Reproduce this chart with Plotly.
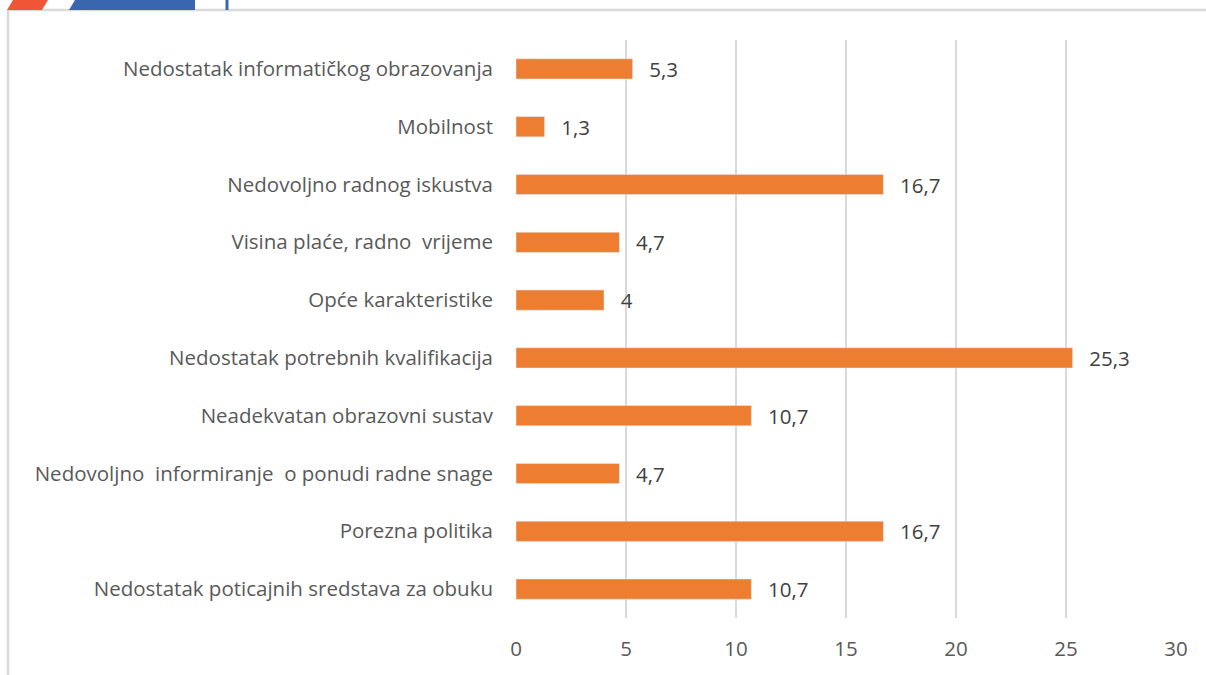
import plotly.graph_objects as go

categories = [
    "Nedostatak poticajnih sredstava za obuku",
    "Porezna politika",
    "Nedovoljno  informiranje  o ponudi radne snage",
    "Neadekvatan obrazovni sustav",
    "Nedostatak potrebnih kvalifikacija",
    "Opće karakteristike",
    "Visina plaće, radno  vrijeme",
    "Nedovoljno radnog iskustva",
    "Mobilnost",
    "Nedostatak informatičkog obrazovanja",
]
values = [10.7, 16.7, 4.7, 10.7, 25.3, 4.0, 4.7, 16.7, 1.3, 5.3]
labels = [("%g" % v).replace(".", ",") for v in values]
x_ticks = [0, 5, 10, 15, 20, 25, 30]

FONT = "Open Sans, sans-serif"
GRAY = "#595959"
FS = 20.5

fig = go.Figure(go.Bar(
    y=categories, x=values, orientation="h",
    marker=dict(color="#ED7D31"),
    width=0.35,
    text=["\u2002\u2009" + t for t in labels], textposition="outside", cliponaxis=False,
    constraintext="none",
    textfont=dict(family=FONT, size=FS, color="#404040"),
))

PW, PH = 660, 578
fig.update_layout(
    width=1206, height=675,
    margin=dict(l=516, r=30, t=40, b=57),
    paper_bgcolor="white", plot_bgcolor="white",
    showlegend=False,
    font=dict(family=FONT, size=FS, color=GRAY),
    xaxis=dict(range=[0, 30], tickvals=x_ticks, showgrid=True,
               gridcolor="#D9D9D9", gridwidth=1.5, zeroline=False,
               showline=False, ticks="", ticklabelstandoff=16,
               tickfont=dict(size=FS, color=GRAY)),
    yaxis=dict(showgrid=False, showline=False, ticks="", ticklabelstandoff=22,
               tickfont=dict(size=FS, color=GRAY)),
    shapes=[
        # frame
        dict(type="line", xref="x domain", yref="y domain", x0=-508/PW, x1=1 + 30/PW,
             y0=1 + 30/PH, y1=1 + 30/PH, line=dict(color="#D9D9D9", width=2.5)),
        dict(type="line", xref="x domain", yref="y domain", x0=-508/PW, x1=-508/PW,
             y0=1 + 30/PH, y1=-57/PH, line=dict(color="#D9D9D9", width=2.5)),
        # decorations
        dict(type="path", xref="x domain", yref="y domain",
             path="M %f %f L %f %f L %f %f L %f %f Z" % (
                 (7-516)/PW, 1 + 30/PH, (42-516)/PW, 1 + 30/PH,
                 (48-516)/PW, 1 + 40/PH, (13-516)/PW, 1 + 40/PH),
             fillcolor="#F05537", line=dict(width=0)),
        dict(type="path", xref="x domain", yref="y domain",
             path="M %f %f L %f %f L %f %f L %f %f Z" % (
                 (69-516)/PW, 1 + 30/PH, (195-516)/PW, 1 + 30/PH,
                 (195-516)/PW, 1 + 40/PH, (75-516)/PW, 1 + 40/PH),
             fillcolor="#3A66B0", line=dict(width=0)),
        dict(type="line", xref="x domain", yref="y domain", x0=(227-516)/PW, x1=(227-516)/PW,
             y0=1 + 30/PH, y1=1 + 40/PH, line=dict(color="#3A66B0", width=3)),
    ],
)

fig.write_html("out.html", config={"displayModeBar": False},
               post_script="document.body.style.margin='0';")
